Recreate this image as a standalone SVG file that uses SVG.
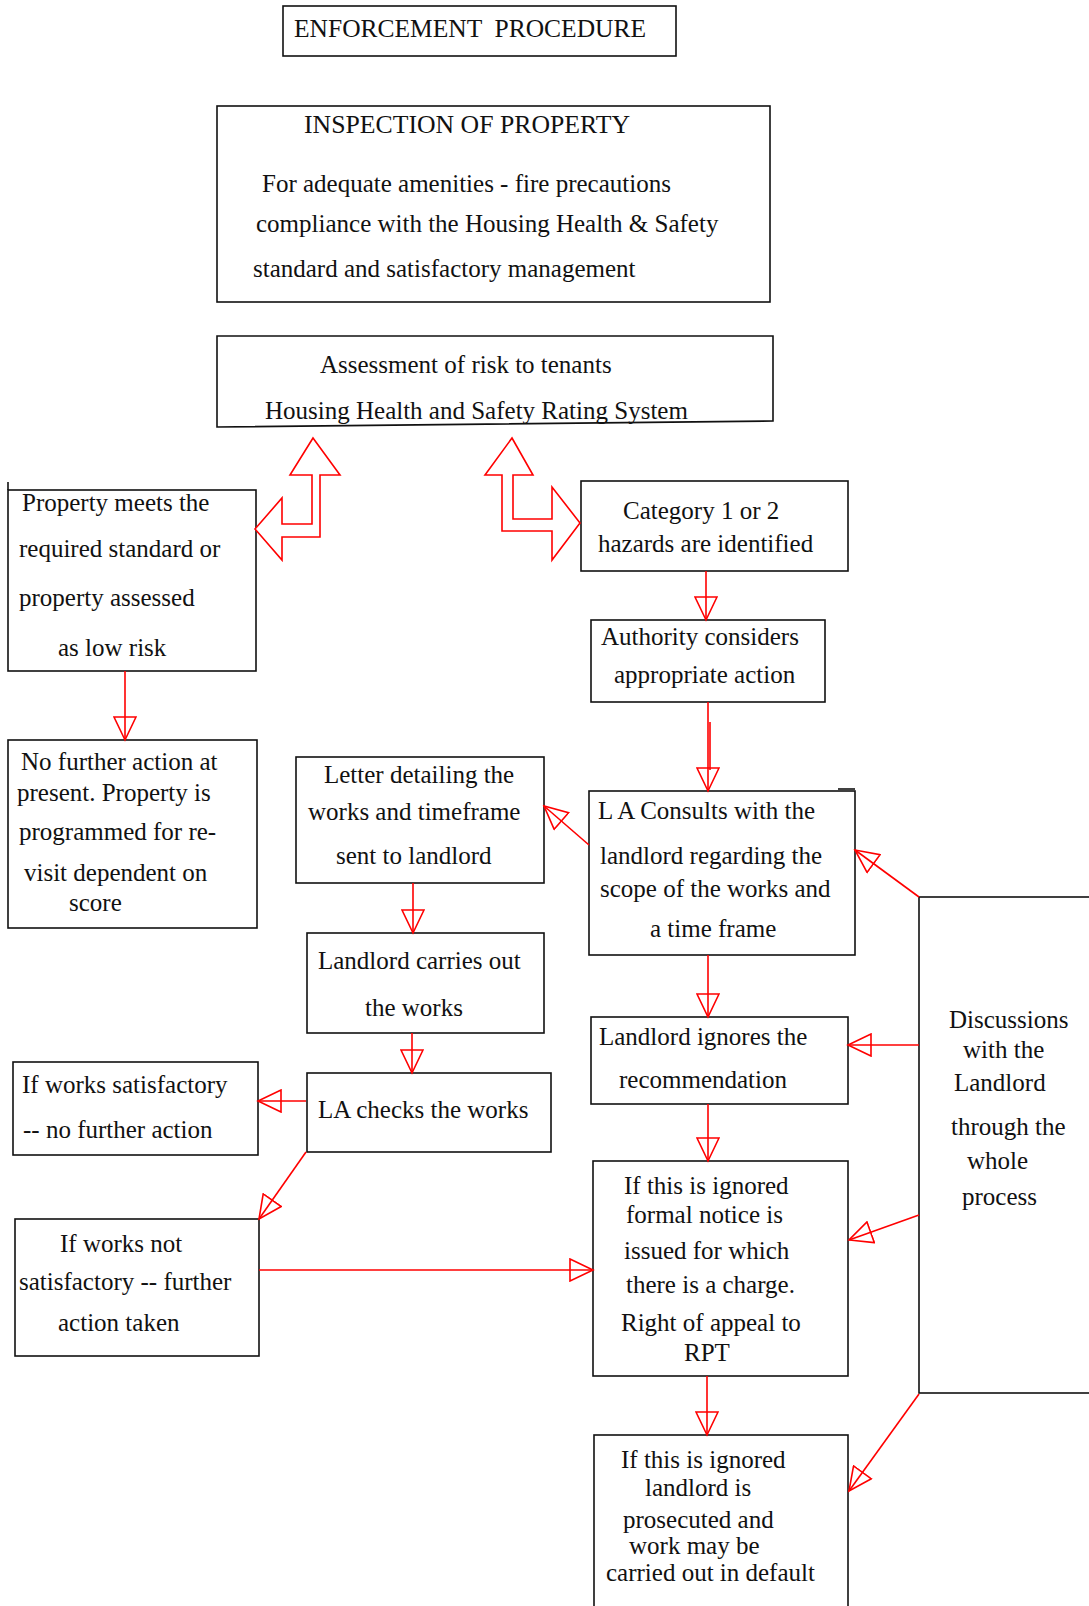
<svg xmlns="http://www.w3.org/2000/svg" width="1089" height="1606" viewBox="0 0 1089 1606">
<style>
.box{fill:#fff;stroke:#111;stroke-width:1.6}
.t{font-family:"Liberation Serif","Times New Roman",serif;font-size:25px;fill:#111}
.c{fill:none;stroke:#f00;stroke-width:1.6}
.blk{fill:#fff;stroke:#f00;stroke-width:1.6}
</style>
<defs>
<marker id="ah" viewBox="-1 -12 26 24" refX="23" refY="0" markerWidth="26" markerHeight="24" markerUnits="userSpaceOnUse" orient="auto">
<path d="M0,-11 L23,0 L0,11 Z" fill="none" stroke="#f00" stroke-width="1.6"/>
</marker>
</defs>
<rect width="1089" height="1606" fill="#fff"/>

<g id="title"><rect class="box" x="283" y="6" width="393" height="50"/>
<text class="t" x="294" y="37" xml:space="preserve" textLength="352" lengthAdjust="spacingAndGlyphs">ENFORCEMENT  PROCEDURE</text></g>

<g id="inspection"><rect class="box" x="217" y="106" width="553" height="196"/>
<text class="t" x="304" y="133" textLength="326" lengthAdjust="spacingAndGlyphs">INSPECTION OF PROPERTY</text>
<text class="t" x="262" y="192">For adequate amenities - fire precautions</text>
<text class="t" x="256" y="232">compliance with the Housing Health &amp; Safety</text>
<text class="t" x="253" y="277">standard and satisfactory management</text></g>

<g id="assessment"><polygon class="box" points="217,336 773,336 773,421 217,427"/>
<text class="t" x="320" y="373">Assessment of risk to tenants</text>
<text class="t" x="265" y="419">Housing Health and Safety Rating System</text></g>

<g id="meets"><rect class="box" x="8" y="490" width="248" height="181"/>
<line x1="8" y1="482" x2="8" y2="490" stroke="#111" stroke-width="1.6"/>
<text class="t" x="22" y="511">Property meets the</text>
<text class="t" x="19" y="557">required standard or</text>
<text class="t" x="19" y="606">property assessed</text>
<text class="t" x="58" y="656">as low risk</text></g>

<g id="nofurther"><rect class="box" x="8" y="740" width="249" height="188"/>
<text class="t" x="21" y="770">No further action at</text>
<text class="t" x="17" y="801">present. Property is</text>
<text class="t" x="19" y="840">programmed for re-</text>
<text class="t" x="24" y="881">visit dependent on</text>
<text class="t" x="69" y="911">score</text></g>

<g id="category"><rect class="box" x="581" y="481" width="267" height="90"/>
<text class="t" x="623" y="519">Category 1 or 2</text>
<text class="t" x="598" y="552">hazards are identified</text></g>

<g id="authority"><rect class="box" x="591" y="620" width="234" height="82"/>
<text class="t" x="601" y="645">Authority considers</text>
<text class="t" x="614" y="683">appropriate action</text></g>

<g id="consults"><rect class="box" x="589" y="791" width="266" height="164"/>
<line x1="838" y1="789" x2="855" y2="789" stroke="#111" stroke-width="1.6"/>
<text class="t" x="598" y="819">L A Consults with the</text>
<text class="t" x="600" y="864">landlord regarding the</text>
<text class="t" x="600" y="897">scope of the works and</text>
<text class="t" x="650" y="937">a time frame</text></g>

<g id="letter"><rect class="box" x="296" y="757" width="248" height="126"/>
<text class="t" x="324" y="783">Letter detailing the</text>
<text class="t" x="308" y="820">works and timeframe</text>
<text class="t" x="336" y="864">sent to landlord</text></g>

<g id="carries"><rect class="box" x="307" y="933" width="237" height="100"/>
<text class="t" x="318" y="969">Landlord carries out</text>
<text class="t" x="365" y="1016">the works</text></g>

<g id="checks"><rect class="box" x="307" y="1073" width="244" height="79"/>
<text class="t" x="318" y="1118">LA checks the works</text></g>

<g id="satisfactory"><rect class="box" x="13" y="1062" width="245" height="93"/>
<text class="t" x="22" y="1093">If works satisfactory</text>
<text class="t" x="23" y="1138">-- no further action</text></g>

<g id="notsatisfactory"><rect class="box" x="15" y="1219" width="244" height="137"/>
<text class="t" x="60" y="1252">If works not</text>
<text class="t" x="19" y="1290">satisfactory -- further</text>
<text class="t" x="58" y="1331">action taken</text></g>

<g id="ignores"><rect class="box" x="591" y="1017" width="257" height="87"/>
<text class="t" x="599" y="1045">Landlord ignores the</text>
<text class="t" x="619" y="1088">recommendation</text></g>

<g id="notice"><rect class="box" x="593" y="1161" width="255" height="215"/>
<text class="t" x="624" y="1194">If this is ignored</text>
<text class="t" x="626" y="1223">formal notice is</text>
<text class="t" x="624" y="1259">issued for which</text>
<text class="t" x="626" y="1293">there is a charge.</text>
<text class="t" x="621" y="1331">Right of appeal to</text>
<text class="t" x="684" y="1361">RPT</text></g>

<g id="prosecuted"><rect class="box" x="594" y="1435" width="254" height="180"/>
<text class="t" x="621" y="1468">If this is ignored</text>
<text class="t" x="645" y="1496">landlord is</text>
<text class="t" x="623" y="1528">prosecuted and</text>
<text class="t" x="629" y="1554">work may be</text>
<text class="t" x="606" y="1581">carried out in default</text></g>

<g id="discussions"><rect class="box" x="919" y="897" width="180" height="496"/>
<text class="t" x="949" y="1028">Discussions</text>
<text class="t" x="963" y="1058">with the</text>
<text class="t" x="954" y="1091">Landlord</text>
<text class="t" x="951" y="1135">through the</text>
<text class="t" x="967" y="1169">whole</text>
<text class="t" x="962" y="1205">process</text></g>

<g id="connectors">
<polygon class="blk" points="313,438 340,475 320,475 320,537 282,537 282,560 255,529 282,498 282,524 312,524 312,475 290,475"/>
<polygon class="blk" points="512,438 533,475 513,475 513,519 552,519 552,487 580,523 552,560 552,531 502,531 502,475 485,475"/>
<line class="c" x1="125" y1="671" x2="125" y2="740" marker-end="url(#ah)"/>
<line class="c" x1="706" y1="571" x2="706" y2="620" marker-end="url(#ah)"/>
<line class="c" x1="708" y1="702" x2="708" y2="791" marker-end="url(#ah)"/>
<line class="c" x1="710" y1="722" x2="710" y2="770"/>
<line class="c" x1="589" y1="845" x2="544" y2="806" marker-end="url(#ah)"/>
<line class="c" x1="413" y1="883" x2="413" y2="933" marker-end="url(#ah)"/>
<line class="c" x1="412" y1="1033" x2="412" y2="1073" marker-end="url(#ah)"/>
<line class="c" x1="306" y1="1101" x2="258" y2="1101" marker-end="url(#ah)"/>
<line class="c" x1="306" y1="1152" x2="259" y2="1219" marker-end="url(#ah)"/>
<line class="c" x1="259" y1="1270" x2="593" y2="1270" marker-end="url(#ah)"/>
<line class="c" x1="708" y1="955" x2="708" y2="1017" marker-end="url(#ah)"/>
<line class="c" x1="708" y1="1104" x2="708" y2="1161" marker-end="url(#ah)"/>
<line class="c" x1="707" y1="1376" x2="707" y2="1435" marker-end="url(#ah)"/>
<line class="c" x1="919" y1="897" x2="855" y2="850" marker-end="url(#ah)"/>
<line class="c" x1="919" y1="1045" x2="848" y2="1045" marker-end="url(#ah)"/>
<line class="c" x1="919" y1="1215" x2="849" y2="1240" marker-end="url(#ah)"/>
<line class="c" x1="919" y1="1394" x2="849" y2="1491" marker-end="url(#ah)"/>
</g>
</svg>
